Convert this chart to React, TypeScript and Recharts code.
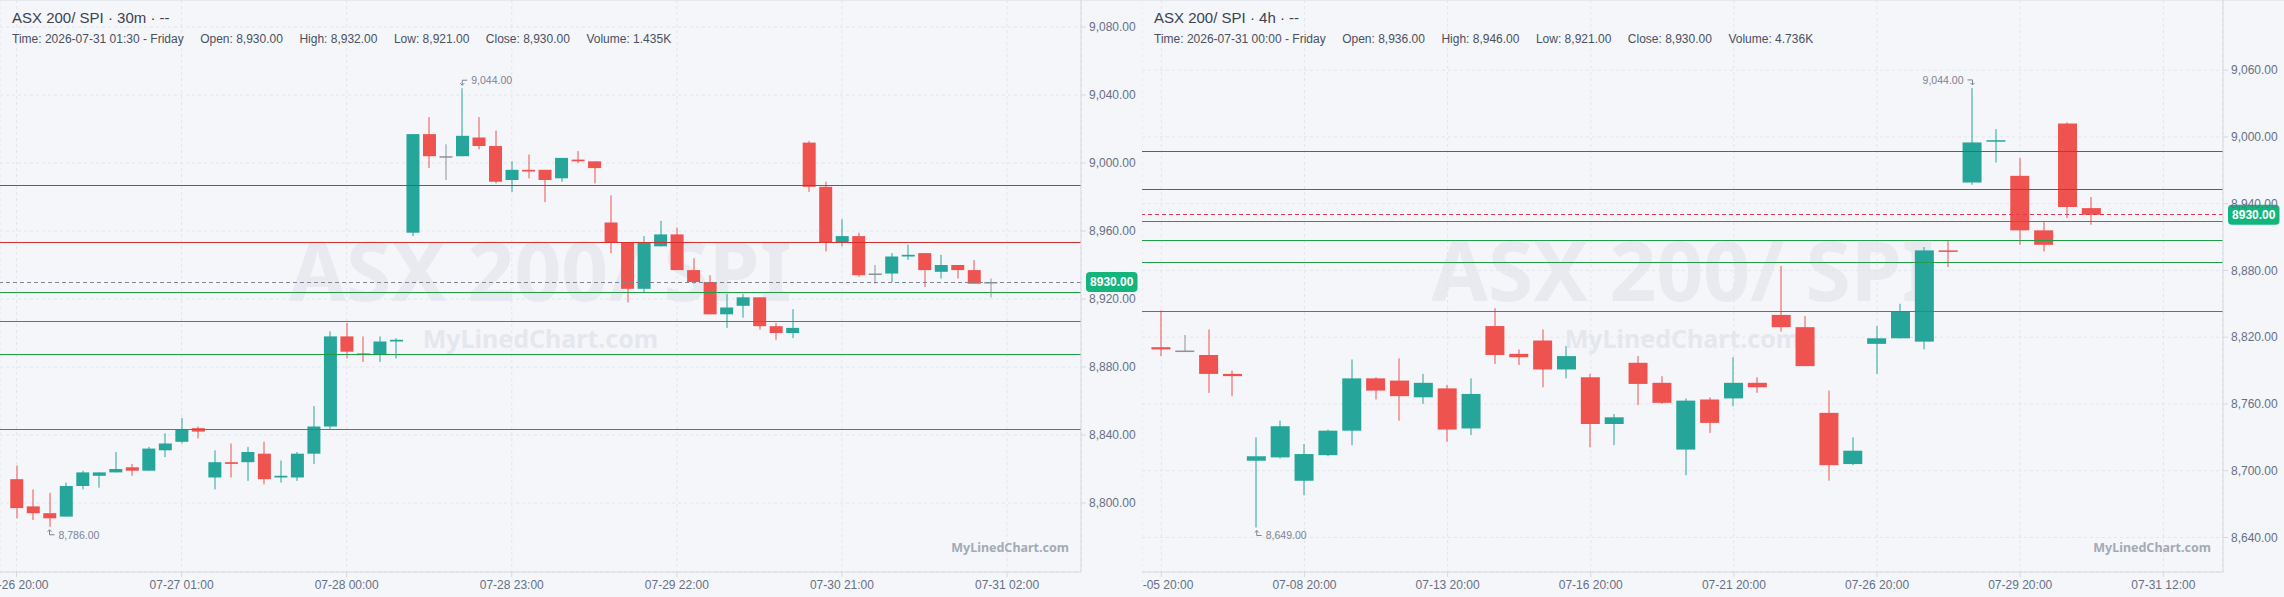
import React from 'react';
import {
  ComposedChart, Bar, XAxis, YAxis, CartesianGrid, ReferenceLine, ReferenceDot,
} from 'recharts';

// ---- 30m panel (left) ----
const m30Open = [8814, 8798, 8794, 8792, 8810, 8816, 8818, 8821, 8819, 8831, 8836, 8844, 8815, 8824, 8824, 8829, 8815, 8815, 8829, 8845,
  8898, 8888, 8887, 8895, 8959, 9017, 9004, 9004, 9015, 9010, 8990, 8996, 8996, 8991, 9002, 9001, 8965, 8953, 8926, 8951,
  8958, 8937, 8930, 8911, 8916, 8921, 8904, 8900, 9012, 8986, 8953, 8957, 8935, 8935, 8945, 8947, 8936, 8940, 8937, 8930];
const m30High = [8822, 8808, 8806, 8812, 8819, 8818, 8830, 8823, 8833, 8841, 8850, 8845, 8831, 8835, 8833, 8836, 8825, 8830, 8857, 8901,
  8906, 8898, 8898, 8897, 9017, 9027, 9011, 9044, 9027, 9019, 9001, 9005, 8996, 9003, 9007, 9001, 8981, 8953, 8957, 8966,
  8962, 8944, 8934, 8923, 8923, 8921, 8906, 8914, 9013, 8989, 8967, 8959, 8940, 8947, 8952, 8947, 8946, 8940, 8943, 8932];
const m30Low = [8791, 8790, 8786, 8792, 8808, 8809, 8818, 8816, 8819, 8827, 8835, 8838, 8808, 8815, 8813, 8811, 8812, 8813, 8823, 8843,
  8885, 8883, 8883, 8885, 8957, 8997, 8990, 9004, 9008, 8988, 8983, 8991, 8977, 8989, 9000, 8988, 8947, 8918, 8924, 8951,
  8937, 8929, 8911, 8903, 8909, 8902, 8896, 8897, 8983, 8948, 8951, 8933, 8929, 8930, 8943, 8927, 8932, 8932, 8929, 8921];
const m30Close = [8797, 8794, 8791, 8810, 8818, 8818, 8820, 8819, 8832, 8835, 8843, 8842, 8824, 8823, 8830, 8814, 8816, 8829, 8845, 8898,
  8889, 8887, 8895, 8896, 9017, 9004, 9004, 9016, 9010, 8989, 8996, 8995, 8990, 9003, 9001, 8997, 8953, 8926, 8953, 8958,
  8937, 8930, 8911, 8915, 8921, 8904, 8900, 8903, 8986, 8953, 8957, 8934, 8935, 8945, 8946, 8937, 8940, 8937, 8929, 8930];
const m30TickIdx = [0, 10, 20, 30, 40, 50, 60];
const m30TickLabels = ['07-26 20:00', '07-27 01:00', '07-28 00:00', '07-28 23:00', '07-29 22:00', '07-30 21:00', '07-31 02:00'];
const m30PriceTicks = [8800, 8840, 8880, 8920, 8960, 9000, 9040, 9080];

// ---- 4h panel (right) ----
const h4Open = [8811, 8808, 8804, 8787, 8709, 8712, 8691, 8714, 8736, 8783, 8781, 8766, 8774, 8738, 8830, 8805, 8817, 8791, 8784, 8742,
  8797, 8779, 8719, 8764, 8765, 8779, 8840, 8829, 8752, 8706, 8814, 8819, 8816, 8898, 8959, 8996, 8965, 8916, 9012, 8936];
const h4High = [8844, 8822, 8827, 8790, 8730, 8745, 8724, 8737, 8800, 8784, 8801, 8787, 8777, 8783, 8846, 8809, 8827, 8812, 8787, 8751,
  8803, 8785, 8765, 8766, 8802, 8784, 8884, 8839, 8772, 8730, 8830, 8850, 8901, 8907, 9044, 9007, 8981, 8924, 9013, 8946];
const h4Low = [8803, 8807, 8770, 8767, 8649, 8711, 8678, 8713, 8723, 8764, 8745, 8760, 8726, 8732, 8796, 8795, 8775, 8783, 8721, 8723,
  8759, 8760, 8696, 8734, 8758, 8770, 8825, 8794, 8691, 8705, 8787, 8819, 8809, 8883, 8957, 8977, 8903, 8897, 8927, 8921];
const h4Close = [8809, 8808, 8787, 8785, 8713, 8740, 8715, 8736, 8783, 8772, 8767, 8779, 8737, 8769, 8804, 8802, 8791, 8803, 8742, 8748,
  8778, 8761, 8763, 8743, 8779, 8775, 8829, 8794, 8705, 8718, 8819, 8843, 8898, 8897, 8995, 8997, 8916, 8903, 8937, 8930];
const h4TickIdx = [0, 6, 12, 18, 24, 30, 36, 42];
const h4TickLabels = ['07-05 20:00', '07-08 20:00', '07-13 20:00', '07-16 20:00', '07-21 20:00', '07-26 20:00', '07-29 20:00', '07-31 12:00'];
const h4PriceTicks = [8640, 8700, 8760, 8820, 8880, 8940, 9000, 9060];

// shared horizontal levels
const resistanceLevels = [8987, 8953];
const supportLevels = [8924, 8907, 8887.5, 8843.5];
const lastPrice = 8930;

const UP = '#26a69a';
const DOWN = '#ef5350';
const FLAT = '#8d919b';
const AXIS_TEXT = '#667085';
const FONT = '"Liberation Sans", Arial, Helvetica, sans-serif';

const fmt = (v: number) => v.toLocaleString('en-US', { minimumFractionDigits: 2, maximumFractionDigits: 2 });

function buildCandles(o: number[], h: number[], l: number[], c: number[]) {
  return o.map((open, i) => ({ i, open, high: h[i], low: l[i], close: c[i], range: [l[i], h[i]] }));
}

function CandleShape(props: any) {
  const { x, y, width, height } = props;
  const d = props.payload || props;
  const { open, close, high, low } = d;
  const h = Math.abs(height);
  const top = height < 0 ? y + height : y;
  const k = high === low ? 0 : h / (high - low);
  const py = (v: number) => top + (high - v) * k;
  const color = close > open ? UP : close < open ? DOWN : FLAT;
  const cx = Math.round(x + width / 2);
  const bTop = py(Math.max(open, close));
  const bH = Math.max(1.5, py(Math.min(open, close)) - bTop);
  return (
    <g>
      <rect x={cx - 0.5} y={top} width={1} height={h} fill={color} />
      <rect x={x} y={bTop} width={width} height={bH} fill={color} />
    </g>
  );
}

function extremeMarker(text: string, side: 'left' | 'right', dir: 'up' | 'down') {
  return (p: any) => {
    const { cx, cy } = p;
    const s = side === 'right' ? 1 : -1;
    const yy = dir === 'up' ? cy - 8 : cy + 8;
    const tip = dir === 'up' ? cy - 3 : cy + 3;
    const a = dir === 'up' ? -2 : 2;
    return (
      <g>
        <path d={`M${cx + 5 * s},${yy} H${cx} V${tip}`} stroke="#7c8394" fill="none" strokeWidth={1} />
        <path d={`M${cx - 2},${tip + a} L${cx},${tip} L${cx + 2},${tip + a}`} stroke="#7c8394" fill="none" strokeWidth={1} />
        <text x={cx + 9 * s} y={yy} textAnchor={s > 0 ? 'start' : 'end'} dominantBaseline="central"
          fontSize={10.5} fill="#7c8394">{text}</text>
      </g>
    );
  };
}

function PriceBadge(p: any) {
  const vb = p.viewBox || {};
  const x = vb.x + vb.width + 5;
  const y = vb.y;
  return (
    <g>
      <rect x={x} y={y - 10} width={51.5} height={20} rx={4} fill="#14b57d" />
      <text x={x + 25.75} y={y} textAnchor="middle" dominantBaseline="central" fontSize={12}
        fontWeight="bold" fill="#fff">{lastPrice.toFixed(2)}</text>
    </g>
  );
}

interface PanelProps {
  left: number;
  title: string;
  time: string;
  volume: string;
  candles: any[];
  xDomain: [number, number];
  xTicks: number[];
  xLabels: string[];
  yDomain: [number, number];
  yTicks: number[];
  barSize: number;
  priceLineColor: string;
  highSide: 'left' | 'right';
  lowSide: 'left' | 'right';
}

function Panel(props: PanelProps) {
  const { candles } = props;
  const last = candles[candles.length - 1];
  let hi = candles[0], lo = candles[0];
  candles.forEach((c) => { if (c.high > hi.high) hi = c; if (c.low < lo.low) lo = c; });
  const info = [
    `Time: ${props.time}`,
    `Open: ${fmt(last.open)}`,
    `High: ${fmt(last.high)}`,
    `Low: ${fmt(last.low)}`,
    `Close: ${fmt(last.close)}`,
    `Volume: ${props.volume}`,
  ];
  return (
    <div style={{ position: 'absolute', left: props.left, top: 0, width: 1142, height: 597, borderTop: '1px solid #e6e8ee', boxSizing: 'border-box' }}>
      <div style={{ position: 'absolute', left: 0, top: 227, width: 1081, textAlign: 'center', fontFamily: '"Noto Sans", sans-serif', fontWeight: 700, fontSize: 82, lineHeight: '82px', color: '#e8eaf0', whiteSpace: 'nowrap' }}>
        ASX 200/ SPI
      </div>
      <div style={{ position: 'absolute', left: 0, top: 325, width: 1081, textAlign: 'center', fontFamily: '"Noto Sans", sans-serif', fontWeight: 700, fontSize: 25, lineHeight: '25px', color: '#e5e7ee' }}>
        MyLinedChart.com
      </div>
      <div style={{ position: 'absolute', right: 73, top: 539, fontFamily: '"Noto Sans", sans-serif', fontWeight: 700, fontSize: 12.5, lineHeight: '16px', color: '#a3a9b8' }}>
        MyLinedChart.com
      </div>
      <div style={{ position: 'absolute', left: 0, top: -1 }}>
        <ComposedChart width={1142} height={597} data={candles} margin={{ top: 0, right: 0, bottom: 0, left: 0 }}>
          <CartesianGrid stroke="#e2e5ec" strokeDasharray="3 3" />
          <XAxis type="number" dataKey="i" domain={props.xDomain} ticks={props.xTicks} interval={0} allowDataOverflow
            tickFormatter={(v: number) => props.xLabels[props.xTicks.indexOf(v)] ?? ''}
            height={25} tickSize={5} tickMargin={3} stroke="#d5d8df" tick={{ fill: AXIS_TEXT, fontSize: 12 }} />
          <YAxis orientation="right" type="number" domain={props.yDomain} ticks={props.yTicks} interval={0} allowDataOverflow
            tickFormatter={fmt} width={61} tickSize={5} tickMargin={3} stroke="#d5d8df" tick={{ fill: AXIS_TEXT, fontSize: 12 }} />
          {resistanceLevels.map((v) => (
            <ReferenceLine key={`r${v}`} y={v} stroke="#d32f2f" strokeWidth={1} shapeRendering="crispEdges" />
          ))}
          {supportLevels.map((v) => (
            <ReferenceLine key={`s${v}`} y={v} stroke="#1f9d47" strokeWidth={1} shapeRendering="crispEdges" />
          ))}
          <ReferenceLine y={lastPrice} stroke={props.priceLineColor} strokeDasharray="4 3" strokeWidth={1}
            shapeRendering="crispEdges" label={<PriceBadge />} />
          <Bar dataKey="range" barSize={props.barSize} shape={<CandleShape />} isAnimationActive={false} />
          <ReferenceDot x={hi.i} y={hi.high} r={0} shape={extremeMarker(fmt(hi.high), props.highSide, 'up')} />
          <ReferenceDot x={lo.i} y={lo.low} r={0} shape={extremeMarker(fmt(lo.low), props.lowSide, 'down')} />
        </ComposedChart>
      </div>
      <div style={{ position: 'absolute', left: 12, top: 9, fontSize: 15, lineHeight: '15px', color: '#3c4250', whiteSpace: 'nowrap' }}>
        {props.title}
      </div>
      <div style={{ position: 'absolute', left: 12, top: 32, fontSize: 12, lineHeight: '12px', color: '#4a5060', display: 'flex', gap: 16.5, whiteSpace: 'nowrap' }}>
        {info.map((t) => <span key={t}>{t}</span>)}
      </div>
    </div>
  );
}

export default function App() {
  const m30 = buildCandles(m30Open, m30High, m30Low, m30Close);
  const h4 = buildCandles(h4Open, h4High, h4Low, h4Close);
  return (
    <div style={{ position: 'fixed', left: 0, top: 0, width: 2284, height: 597, background: '#f5f6fa', fontFamily: FONT, overflow: 'hidden' }}>
      <Panel left={0} title="ASX 200/ SPI · 30m · --" time="2026-07-31 01:30 - Friday" volume="1.435K"
        candles={m30} xDomain={[-1, 64.48]} xTicks={m30TickIdx} xLabels={m30TickLabels}
        yDomain={[8759.4, 9095.9]} yTicks={m30PriceTicks} barSize={13} priceLineColor="#7d8597"
        highSide="right" lowSide="right" />
      <Panel left={1142} title="ASX 200/ SPI · 4h · --" time="2026-07-31 00:00 - Friday" volume="4.736K"
        candles={h4} xDomain={[-0.81, 44.5]} xTicks={h4TickIdx} xLabels={h4TickLabels}
        yDomain={[8609, 9123]} yTicks={h4PriceTicks} barSize={19} priceLineColor="#e53950"
        highSide="left" lowSide="right" />
    </div>
  );
}
